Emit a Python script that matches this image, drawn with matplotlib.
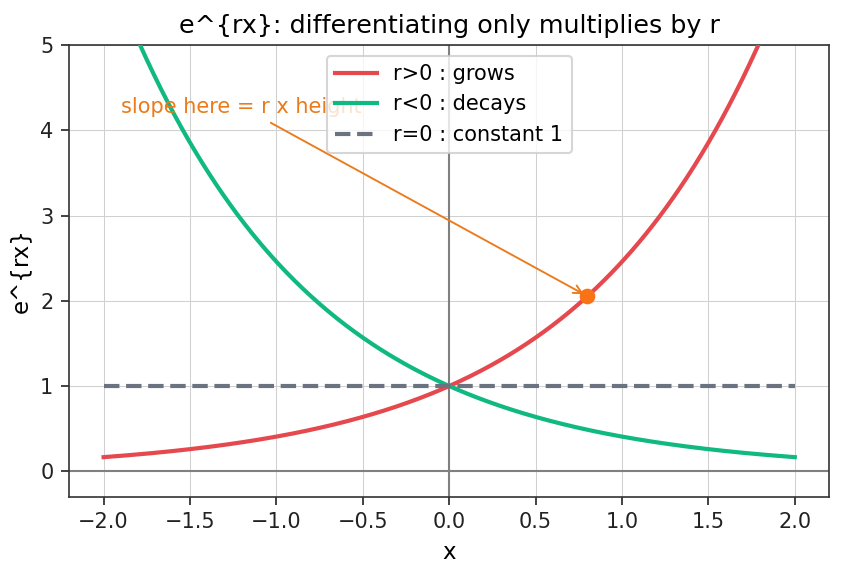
import numpy as np
import matplotlib
matplotlib.use("Agg")
import matplotlib.pyplot as plt

# Data: rates r for e^{rx}
rates = [0.9, -0.9, 0.0]
labels = ["r>0 : grows", "r<0 : decays", "r=0 : constant 1"]
colors = ["#e5484d", "#10b981", "#6b7280"]
styles = ["-", "-", "--"]
x_range = (-2.0, 2.0)
point_x = 0.8
annot_text = "slope here = r x height"

plt.rcParams['font.family'] = ['DejaVu Sans']
fig, ax = plt.subplots(figsize=(842/150, 573/150), dpi=150)

x = np.linspace(x_range[0], x_range[1], 400)
for r, lab, c, ls in zip(rates, labels, colors, styles):
    ax.plot(x, np.exp(r * x), color=c, ls=ls, lw=2.0, label=lab, zorder=3)

ax.axhline(0, color="#808080", lw=1.0, zorder=1)
ax.axvline(0, color="#808080", lw=1.0, zorder=1)

py = np.exp(rates[0] * point_x)
ax.plot([point_x], [py], "o", color="#f97316", ms=6.5, zorder=5)
ax.annotate(annot_text, xy=(point_x, py), xytext=(-1.9, 4.28),
            ha="left", va="center", color="#ea7a1a", fontsize=10,
            arrowprops=dict(arrowstyle="->", color="#ea7a1a", lw=0.9), zorder=4)

ax.set_xlim(-2.2, 2.2)
ax.set_ylim(-0.3, 5)
ax.set_xticks(np.arange(-2.0, 2.01, 0.5))
ax.set_yticks(range(0, 6))
ax.grid(True, color="#d0d0d0", lw=0.5)
ax.set_axisbelow(True)
for s in ax.spines.values():
    s.set_color("#333333")
ax.tick_params(labelsize=10, colors="#222222", direction="out", length=4)
ax.set_xlabel("x", fontsize=11)
ax.set_ylabel("e^{rx}", fontsize=11)
ax.set_title("e^{rx}: differentiating only multiplies by r", fontsize=12.2)
leg = ax.legend(loc="upper center", fontsize=10, framealpha=0.8)
leg.set_zorder(6)

fig.subplots_adjust(left=0.082, right=0.985, top=0.921, bottom=0.133)
fig.savefig("out.png", dpi=150)
